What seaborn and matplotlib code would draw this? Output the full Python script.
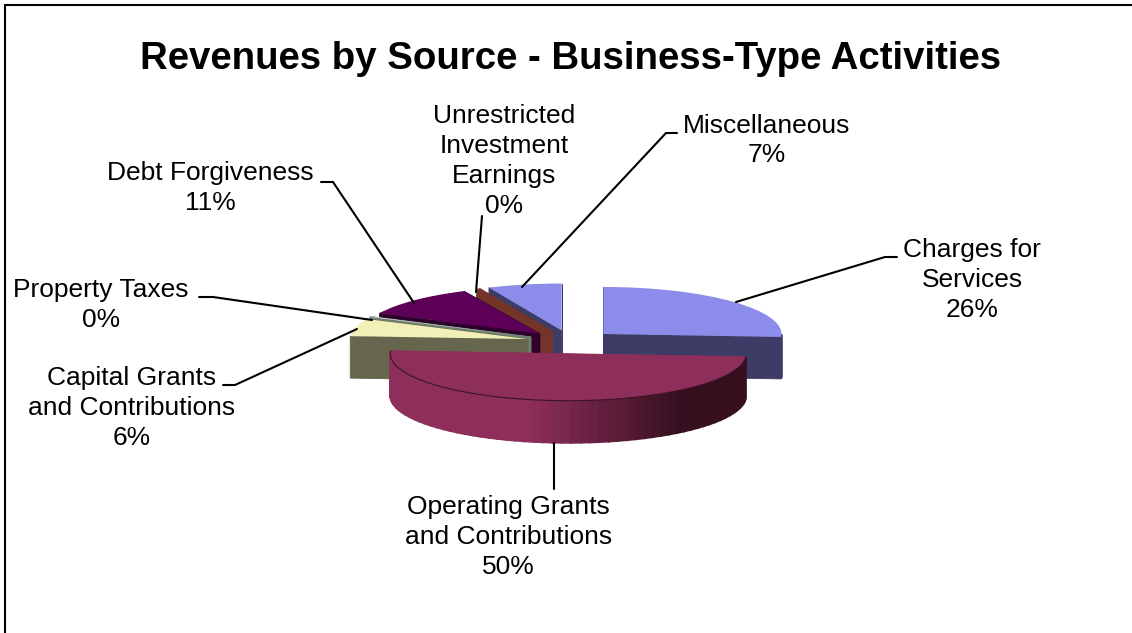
import numpy as np
import matplotlib
matplotlib.use("Agg")
import matplotlib.pyplot as plt
import seaborn as sns
from matplotlib.colors import to_rgb
from matplotlib.patches import Polygon

# Revenue shares, percent of total
sources = ["Charges for\nServices", "Operating Grants\nand Contributions",
           "Capital Grants\nand Contributions", "Property Taxes",
           "Debt Forgiveness", "Unrestricted\nInvestment\nEarnings", "Miscellaneous"]
shares = [26.0, 50.0, 6.0, 0.2, 10.8, 0.3, 6.7]

top_colors = ["#8C8CEA", "#8E2E5A", "#F0F0B8", "#E8F4F4", "#5C0058", "#743528", "#8C8CEA"]
wall_colors = ["#3C3C66", "#8E2E5A", "#66664F", "#708070", "#2E002C", "#743528", "#3C3C66"]
rim_light, rim_dark = "#8E2E5A", "#36101F"

W, H = 1132, 633
FLATTEN = 178 / 47          # ground-plane units per vertical pixel
DEPTH = 42 * FLATTEN
RADIUS = 178
PULL_OUT = 44.5


def ground_y(pixel_y):
    """Canvas pixel row to ground-plane y."""
    return (H - pixel_y) * FLATTEN


# Text centres and leader-line routes, in canvas pixels
label_xy = [(972, 280), (508.5, 537), (132, 408), (101, 305), (210, 188), (504, 161), (767, 140.5)]
leaders = [
    [(897, 257), (885, 257), (736, 302)],
    [(554, 443), (554, 489)],
    [(223, 385), (235, 385), (357, 329)],
    [(199, 297), (213, 297), (372, 320)],
    [(321, 182), (333, 182), (414, 303)],
    [(482, 216), (476, 292)],
    [(677, 133), (666, 133), (522, 287)],
]

sns.set_theme(style="white")
plt.rcParams["font.family"] = ["Liberation Sans", "DejaVu Sans"]

fig = plt.figure(figsize=(W / 100, H / 100), dpi=100, facecolor="white")
ax = fig.add_axes([0, 0, 1, 1])

palette = sns.color_palette(top_colors)
wedges, _ = ax.pie(shares, colors=palette, startangle=90, counterclock=False,
                   radius=RADIUS, center=(571, ground_y(342)),
                   explode=[PULL_OUT] * len(shares), frame=True,
                   wedgeprops={"edgecolor": "none"})
ax.set_aspect("auto")
ax.set_xlim(0, W)
ax.set_ylim(0, H * FLATTEN)
ax.axis("off")


def rim_point(w, angle):
    a = np.deg2rad(angle)
    return w.center[0] + w.r * np.cos(a), w.center[1] + w.r * np.sin(a)


# Back slices first, the large front slice last
draw_order = [6, 5, 4, 3, 2, 0, 1]
for rank, i in enumerate(draw_order):
    w = wedges[i]
    base = 10 * rank + 10
    cx, cy = w.center
    angles = np.linspace(w.theta1, w.theta2, 60)

    # Radial side faces
    for a in (w.theta1, w.theta2):
        px, py = rim_point(w, a)
        ax.add_patch(Polygon([(cx, cy), (px, py), (px, py - DEPTH), (cx, cy - DEPTH)],
                             closed=True, fc=wall_colors[i], ec=wall_colors[i], lw=0.6,
                             zorder=base))

    # Outer rim, shaded strip by strip on the large slice
    front = [a for a in angles if np.sin(np.deg2rad(a)) <= 0.02]
    for a0, a1 in zip(front[:-1], front[1:]):
        p0, p1 = rim_point(w, a0), rim_point(w, a1)
        if i == 1:
            t = np.clip(((p0[0] + p1[0]) / 2 - 530) / (680 - 530), 0, 1)
            c = tuple((1 - t) * np.array(to_rgb(rim_light)) + t * np.array(to_rgb(rim_dark)))
        else:
            c = wall_colors[i]
        ax.add_patch(Polygon([p0, p1, (p1[0], p1[1] - DEPTH), (p0[0], p0[1] - DEPTH)],
                             closed=True, fc=c, ec=c, lw=1.4, zorder=base + 1))

    # Top face on its own layer above the walls
    w.set_zorder(base + 2)
    if i == 1:
        arc = np.array([rim_point(w, a) for a in angles])
        ax.plot(arc[:, 0], arc[:, 1], color="#3a1426", lw=0.8, zorder=base + 3)

# Value labels and their leader lines
for name, value, (tx, ty), route in zip(sources, shares, label_xy, leaders):
    ax.text(tx, ground_y(ty), f"{name}\n{value:.0f}%", ha="center", va="center",
            fontsize=19, color="black", linespacing=1.31, zorder=200)
    ax.plot([p[0] for p in route], [ground_y(p[1]) for p in route], color="black",
            lw=1.5, solid_joinstyle="miter", zorder=150, clip_on=False)

ax.text(570.5, ground_y(59), "Revenues by Source - Business-Type Activities",
        ha="center", va="center", fontsize=27.6, fontweight="bold", color="black", zorder=200)

# Chart-area border: top and left edges reach the canvas limits
ax.plot([5, 5, W], [0, ground_y(4.5), ground_y(4.5)], color="black", lw=1.5,
        solid_joinstyle="miter", zorder=210, clip_on=False)

fig.savefig("out.png", dpi=100, facecolor="white")
